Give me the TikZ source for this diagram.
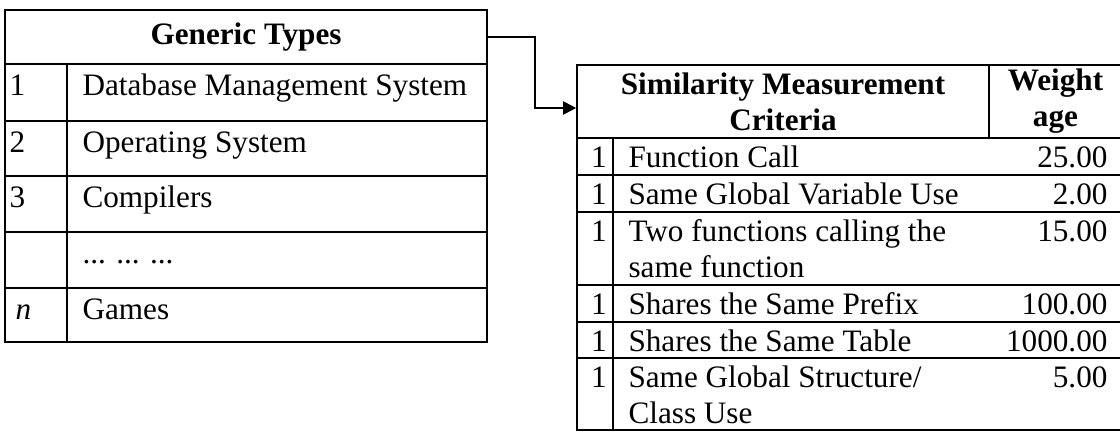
\documentclass[tikz,border=0pt]{standalone}
\usepackage{fontspec}
\setmainfont{Liberation Serif}
\usetikzlibrary{arrows.meta}

\begin{document}
\begin{tikzpicture}[x=0.3846pt, y=-0.3846pt,
  every node/.style={font=\fontsize{12}{13.8}\selectfont, inner sep=0pt},
  head/.style={draw, line width=0.65pt, align=center, font=\fontsize{12}{13.8}\selectfont\bfseries},
  cell/.style={anchor=base west, align=left},
  idx/.style={anchor=base},
  wt/.style={anchor=base east},
  grid/.style={line width=0.65pt},
  arr/.style={-{Triangle[length=5pt, width=5pt]}, line width=0.8pt}
]
\useasboundingbox (0,0) rectangle (1120,433);

% generic types table
\draw[grid] (5,10) rectangle (487,342);
\draw[grid] (67,64) -- (67,342);
\draw[grid] (5,121) -- (487,121) (5,176) -- (487,176) (5,232) -- (487,232) (5,288) -- (487,288);
\node[head, minimum width=185.4pt, minimum height=20.8pt] (gt) at (246,37) {Generic Types};

\node[cell] (n1) at (9,95)  {1};
\node[cell] (t1) at (82,95) {Database Management System};
\node[cell] (n2) at (9,152)  {2};
\node[cell] (t2) at (82,152) {Operating System};
\node[cell] (n3) at (9,207)  {3};
\node[cell] (t3) at (82,207) {Compilers};
\node[cell] (t4) at (82,263) {... ... ...};
\node[cell] (n5) at (15,319) {\textit{n}};
\node[cell] (t5) at (82,319) {Games};

% similarity criteria table (two-line cells sit on their last baseline)
\draw[grid] (577,65) rectangle (1122,430);
\draw[grid] (613,138) -- (613,430);
\draw[grid] (577,175) -- (1122,175) (577,212) -- (1122,212) (577,285) -- (1122,285) (577,322) -- (1122,322) (577,358) -- (1122,358);
\node[head, minimum width=158.45pt, minimum height=28.08pt] (smc) at (783,101.5) {Similarity Measurement\\Criteria};
\node[head, minimum width=51.15pt, minimum height=28.08pt] (wg) at (1055.5,101.5) {Weight\\age};

\node[idx]  (k1) at (599,167)  {1};
\node[cell] (c1) at (628,167)  {Function Call};
\node[wt]   (w1) at (1108,167) {25.00};
\node[idx]  (k2) at (599,204)  {1};
\node[cell] (c2) at (628,204)  {Same Global Variable Use};
\node[wt]   (w2) at (1108,204) {2.00};
\node[idx]  (k3) at (599,241)  {1};
\node[cell] (c3) at (628,277)  {Two functions calling the\\same function};
\node[wt]   (w3) at (1108,241) {15.00};
\node[idx]  (k4) at (599,314)  {1};
\node[cell] (c4) at (628,314)  {Shares the Same Prefix};
\node[wt]   (w4) at (1108,314) {100.00};
\node[idx]  (k5) at (599,351)  {1};
\node[cell] (c5) at (628,351)  {Shares the Same Table};
\node[wt]   (w5) at (1108,351) {1000.00};
\node[idx]  (k6) at (599,387)  {1};
\node[cell] (c6) at (628,423)  {Same Global Structure/\\Class Use};
\node[wt]   (w6) at (1108,387) {5.00};

\draw[arr] (gt.east) -- ++(47,0) |- ([yshift=-2.5pt]smc.west);

\end{tikzpicture}
\end{document}
